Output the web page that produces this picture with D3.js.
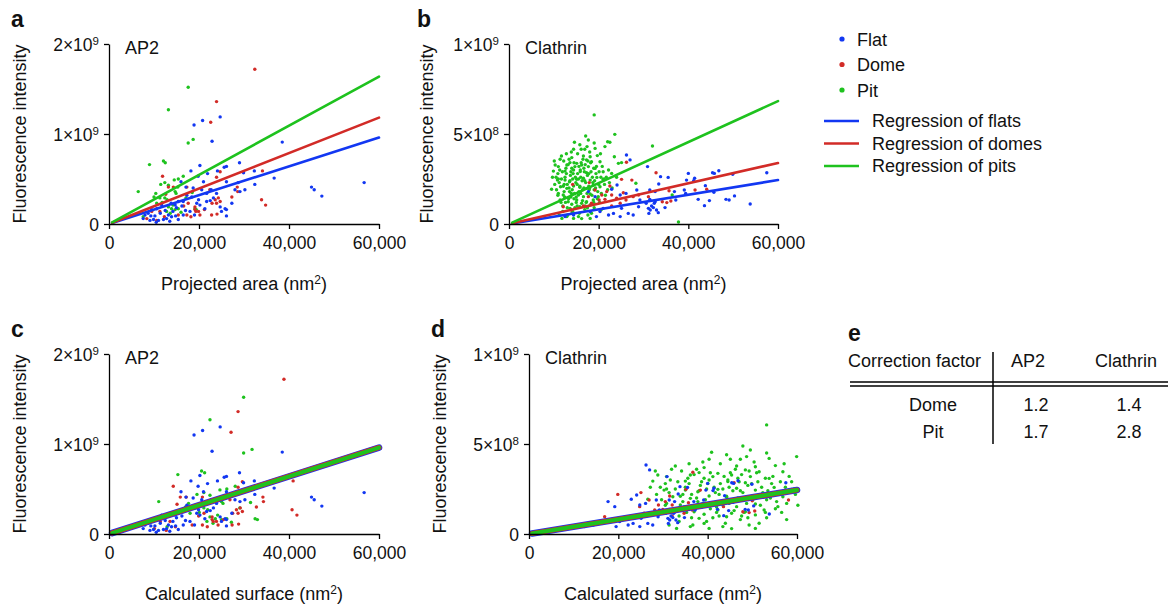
<!DOCTYPE html>
<html>
<head>
<meta charset="utf-8">
<script src="https://cdn.jsdelivr.net/npm/d3@7"></script>
<style>
  body { margin: 0; background: #fff; }
  svg text { font-family: "Liberation Sans", Arial, Helvetica, sans-serif; fill: #111; }
</style>
</head>
<body>
<div id="fig"></div>
<script>
// points are [projected area in thousands of nm², intensity in units of 1e8]
const ap2Flat = [
  [18.9,11.0],[20.8,11.5],[24.7,11.9],[22.9,9.2],[38.5,9.1],[56.7,4.6],[45.0,4.1],[45.6,3.8],[47.3,3.1],
  [36.7,5.1],[32.4,4.4],[29.0,6.8],[26.1,6.4],[25.6,6.3],[20.2,6.5],[18.2,5.9],[21.9,5.6],[24.1,5.9],
  [30.2,3.8],[26.1,1.6],[28.7,4.6],[29.1,3.6],[16.0,4.7],[17.1,4.1],[19.8,5.3],[29.9,5.7],[21.0,4.7],
  [18.7,4.0],[20.6,3.8],[21.7,3.4],[22.7,3.8],[23.9,3.4],[23.2,2.9],[21.7,2.5],[19.9,2.7],[18.4,3.0],
  [17.3,3.2],[16.5,2.5],[15.4,2.5],[14.7,2.1],[13.8,2.3],[11.7,2.1],[10.6,1.7],[9.5,1.6],[8.7,1.2],
  [8.0,1.0],[7.6,0.6],[9.1,0.4],[9.9,0.5],[11.0,0.4],[12.1,0.5],[12.8,0.6],[13.9,0.8],[15.4,0.5],
  [16.5,1.0],[18.0,1.4],[19.0,1.0],[20.2,2.1],[21.3,1.7],[25.8,1.7],[24.7,1.9],[26.1,4.7],[32.3,5.9],
  [28.0,3.8],[27.3,2.3],[26.1,0.9],[25.0,1.4],[10.2,0.9],[11.4,1.2],[12.5,1.5],[13.2,1.0],[14.2,1.4],
  [15.0,1.8],[16.2,2.0],[17.0,1.5],[10.5,0.2],[13.5,0.3],[14.8,0.9],[9.3,0.9],[19.5,2.3],[22.5,2.6]
];
const ap2Dome = [
  [32.4,17.2],[23.9,13.6],[22.6,11.3],[11.9,5.3],[33.9,2.7],[34.8,2.1],[34.1,5.9],[22.8,1.0],[24.0,1.1],
  [28.5,4.1],[14.3,4.1],[13.2,4.1],[17.3,4.1],[16.6,2.0],[17.6,2.3],[19.1,1.9],[19.3,1.4],[19.9,1.4],
  [21.2,1.6],[20.2,1.0],[17.3,1.0],[15.4,1.0],[11.3,1.4],[9.5,1.4],[8.4,0.6],[10.6,0.4],[12.3,0.8],
  [23.6,2.7],[23.9,2.3],[24.3,2.9],[22.9,2.3],[24.7,2.5],[27.3,3.0],[28.6,3.6],[24.7,5.8],[23.9,5.2],
  [22.4,3.8],[19.1,1.6],[18.2,0.8],[12.6,3.3]
];
const ap2Pit = [
  [17.6,15.2],[13.2,12.7],[17.6,9.0],[18.7,9.4],[9.0,6.6],[12.1,7.0],[12.5,6.8],[6.5,3.6],[16.5,5.3],
  [14.5,4.9],[11.5,4.4],[12.4,4.6],[13.2,4.3],[15.3,4.1],[14.7,3.6],[14.9,3.4],[10.4,3.4],[11.3,2.9],
  [12.4,2.9],[12.9,2.7],[10.6,2.3],[13.2,1.9],[13.9,1.7],[14.7,1.6],[12.8,1.4],[13.6,1.2],[15.4,1.7],
  [7.6,0.8],[15.4,5.0],[17.1,2.9],[18.5,3.5],[19.4,1.6],[11.8,2.4],[14.2,2.1],[16.0,1.3],[10.0,3.0],
  [19.1,1.7]
];
const clathrinFlat = [
  [26.2,3.83],[27.0,3.56],[24.1,2.17],[22.9,1.93],[24.8,1.61],[26.1,1.70],[28.5,1.89],[29.2,1.33],
  [20.3,0.69],[22.2,0.50],[23.3,0.59],[24.8,0.41],[26.6,0.59],[27.7,0.50],[19.5,0.41],[18.1,0.69],
  [21.0,0.87],[25.1,0.87],[28.9,0.96],[30.6,1.15],[17.7,1.80],[19.2,1.52],[14.4,0.50],[12.5,0.41],
  [30.9,3.19],[33.8,2.63],[33.4,2.22],[35.5,2.59],[40.0,2.81],[41.4,2.54],[41.2,2.41],[39.6,2.44],
  [45.4,2.85],[45.8,2.81],[46.8,2.96],[49.9,2.76],[57.5,2.85],[43.8,2.13],[39.1,1.89],[39.4,1.70],
  [36.9,1.80],[45.7,1.76],[42.2,1.37],[44.7,1.30],[48.4,1.37],[49.1,1.33],[50.3,1.56],[53.8,1.11],
  [43.6,1.02],[37.2,1.33],[34.8,0.91],[31.4,1.37],[31.8,1.00],[32.4,1.15],[32.6,1.24],[31.1,0.87],
  [31.5,0.78],[32.2,0.91],[32.9,0.78],[33.3,0.63],[31.2,0.59],[32.6,1.80],[31.4,1.89]
];
const clathrinDome = [
  [26.2,3.43],[25.1,2.48],[27.4,2.44],[17.9,2.30],[14.2,2.20],[22.5,2.11],[21.8,1.80],[22.9,1.61],
  [21.4,1.37],[20.7,1.61],[20.1,1.33],[19.2,1.89],[17.7,1.52],[24.0,1.43],[26.1,1.33],[27.7,1.52],
  [22.9,1.00],[24.8,1.15],[12.1,0.96],[13.9,0.78],[16.6,1.00],[18.4,1.15],[28.9,1.61],[25.5,1.74],
  [32.8,2.85],[35.7,1.85],[41.5,1.89],[44.1,1.93],[31.1,1.52],[34.2,1.24],[35.2,1.19],[36.1,1.28]
];
const clathrinPit = [
  [19.0,6.06],[17.1,4.89],[17.7,4.67],[23.6,4.98],[14.6,4.54],[22.0,4.57],[22.5,4.54],[14.4,4.15],
  [16.1,4.15],[16.9,4.15],[19.2,4.20],[21.4,4.30],[23.5,3.74],[11.7,3.78],[14.0,3.69],[16.6,3.78],
  [18.1,3.74],[13.6,3.41],[15.1,3.37],[17.3,3.56],[18.4,3.46],[20.3,3.46],[11.0,3.19],[12.9,3.28],
  [14.7,3.19],[16.2,3.28],[17.7,3.19],[19.2,3.09],[9.9,2.94],[12.5,2.94],[14.4,3.00],[15.9,2.91],
  [17.3,2.85],[22.2,3.00],[24.4,3.37],[25.1,3.41],[10.8,2.44],[12.5,2.44],[13.5,2.35],[15.1,2.48],
  [16.6,2.54],[18.1,2.44],[19.6,2.59],[21.0,2.48],[22.9,2.81],[11.5,2.07],[12.9,1.98],[14.4,2.11],
  [15.8,2.04],[17.3,1.98],[18.8,2.17],[20.3,2.07],[9.5,1.93],[11.0,1.70],[12.1,1.61],[13.9,1.70],
  [15.5,1.61],[16.6,1.52],[18.1,1.67],[19.9,1.52],[11.4,1.33],[13.2,1.24],[15.1,1.33],[16.2,1.15],
  [17.3,1.24],[18.8,1.33],[13.6,0.87],[15.8,0.96],[18.1,1.06],[11.8,0.31],[12.9,0.41],[14.4,0.31],
  [15.5,0.41],[18.1,0.31],[14.0,0.59],[10.3,3.28],[32.0,4.33],[36.4,1.61],[37.8,0.11],[28.3,2.26],
  [10.5,2.60],[11.2,2.30],[11.9,2.90],[12.3,1.80],[12.7,3.10],[13.0,2.20],[13.3,1.40],[13.7,2.70],
  [14.1,1.90],[14.5,3.40],[14.8,2.60],[15.2,2.20],[15.6,1.80],[15.9,3.00],[16.3,2.40],[16.7,2.00],
  [17.0,3.30],[17.5,2.70],[17.9,1.90],[18.3,2.90],[18.7,2.30],[19.4,2.80],[19.8,1.80],[20.5,2.60],
  [21.3,2.20],[11.6,1.20],[12.0,0.70],[13.1,0.50],[14.7,0.90],[15.7,0.60],[16.9,0.80],[17.6,0.50],
  [19.0,0.90],[10.9,1.60],[13.4,3.60],[15.3,3.90],[16.5,3.60],[18.0,4.00],[19.7,3.80],[12.2,3.50],
  [20.8,3.20],[21.7,2.60],[14.0,1.10],[15.0,1.50],[16.0,1.70],[17.2,1.20],[18.5,1.60],[13.6,2.40],
  [14.3,2.80],[15.5,2.50],[16.8,2.90],[17.8,2.10],[12.5,2.60],[11.4,3.60],[19.3,2.00],[20.2,1.20],
  [22.0,1.90],[21.0,2.90],
  [10.2,2.2],[10.6,1.9],[10.9,2.8],[11.3,3.0],[11.7,2.5],[12.1,2.1],[12.4,1.5],[12.8,2.8],[13.2,3.3],
  [13.5,1.8],[13.8,2.9],[14.2,2.5],[14.6,1.7],[14.9,2.3],[15.3,2.8],[15.6,3.2],[16.0,2.6],[16.4,1.9],
  [16.7,3.1],[17.1,2.3],[17.4,1.7],[17.8,2.8],[18.2,3.4],[18.6,2.6],[19.1,2.4],[19.5,3.2],[20.0,2.2],
  [20.6,1.7],[21.2,2.5],[22.4,2.3],[12.0,1.0],[13.0,0.9],[14.2,0.7],[15.2,1.0],[16.4,1.3],[17.5,0.9],
  [18.9,1.2],[20.6,0.8],[11.2,0.5],[16.2,0.3],[13.9,4.0],[15.8,4.4],[17.4,4.3],[12.8,3.9],[19.0,4.5],
  [20.4,3.9],[10.1,3.5],[9.7,2.6],[23.0,2.0],[24.0,2.6],[12.3,2.2],[13.4,2.0],[14.5,1.4],[15.8,2.1],
  [16.9,2.4],[18.0,2.0],[19.0,1.9],[20.1,2.9],[11.0,2.5],[14.0,3.1],[16.1,3.4],[17.6,3.5],[18.9,3.1],
  [15.0,1.2],[17.0,1.0],[12.6,1.2],[13.8,1.5],[18.4,0.6],[19.7,1.4],[21.5,1.6]
];

// fitted slopes (intensity per nm²) for flat, dome, pit
const ap2Slopes = [16000, 19700, 27300];
const clathrinSlopes = [4070, 5650, 11380];

// table e
const correctionRows = ["Dome", "Pit"];
const correctionAP2 = [1.2, 1.7];
const correctionClathrin = [1.4, 2.8];

const xTicks = [0, 20000, 40000, 60000];
const ap2YTicks = [0, 1e9, 2e9];
const ap2YLabels = [["0", ""], ["1×10", "9"], ["2×10", "9"]];
const clathrinYTicks = [0, 5e8, 1e9];
const clathrinYLabels = [["0", ""], ["5×10", "8"], ["1×10", "9"]];

const seriesNames = ["Flat", "Dome", "Pit"];
const regressionNames = ["Regression of flats", "Regression of domes", "Regression of pits"];
const colors = ["#1237f2", "#d22b27", "#1ec21e"];

const svg = d3.select("#fig").append("svg")
  .attr("width", 1168)
  .attr("height", 608);

function toUnits(pts, factor) {
  return pts.map(p => [p[0] * 1000 * factor, p[1] * 1e8]);
}

function drawPanel(cfg) {
  const x = d3.scaleLinear().domain([0, 60000]).range([cfg.left, cfg.right]);
  const y = d3.scaleLinear().domain([0, cfg.yMax]).range([cfg.bottom, cfg.top]);
  const g = svg.append("g");

  // points: pits first, flats on top
  [2, 1, 0].forEach(i => {
    const pts = cfg.series[i].filter(p => p[0] <= 60500);
    g.append("g").selectAll("circle")
      .data(pts)
      .enter()
      .append("circle")
      .attr("cx", d => x(d[0]))
      .attr("cy", d => y(d[1]))
      .attr("r", 1.7)
      .attr("fill", colors[i]);
  });

  // regression lines
  [0, 1, 2].forEach(i => {
    const s = cfg.slopes[i];
    g.append("line")
      .attr("x1", x(700)).attr("y1", y(700 * s))
      .attr("x2", x(60000)).attr("y2", y(60000 * s))
      .attr("stroke", colors[i])
      .attr("stroke-width", cfg.lineWidths[i])
      .attr("stroke-linecap", "round");
  });

  const xAxis = g.append("g")
    .attr("transform", `translate(0,${cfg.bottom})`)
    .call(d3.axisBottom(x).tickValues(xTicks).tickFormat(d3.format(",")).tickSize(5).tickSizeOuter(0).tickPadding(8));
  const yAxis = g.append("g")
    .attr("transform", `translate(${cfg.left},0)`)
    .call(d3.axisLeft(y).tickValues(cfg.yTicks).tickSize(5).tickSizeOuter(0).tickPadding(5));

  [xAxis, yAxis].forEach(a => {
    a.attr("font-size", 17.5);
    a.selectAll("path, line").attr("stroke", "#000").attr("stroke-width", 1.3);
  });

  yAxis.selectAll(".tick text").each(function (d, i) {
    const t = d3.select(this).text(null).attr("dy", "0.38em");
    t.append("tspan").text(cfg.yLabels[i][0]);
    if (cfg.yLabels[i][1]) {
      t.append("tspan").attr("dy", -6).attr("font-size", 11.5).text(cfg.yLabels[i][1]);
    }
  });

  // axis titles
  g.append("text")
    .attr("transform", `translate(${cfg.yTitleX},${(cfg.top + cfg.bottom) / 2}) rotate(-90)`)
    .attr("text-anchor", "middle")
    .attr("font-size", 18)
    .text("Fluorescence intensity");

  const xt = g.append("text")
    .attr("x", (cfg.left + cfg.right) / 2)
    .attr("y", cfg.bottom + 66)
    .attr("text-anchor", "middle")
    .attr("font-size", 18);
  xt.append("tspan").text(cfg.xTitle + " (nm");
  xt.append("tspan").attr("dy", -6).attr("font-size", 12).text("2");
  xt.append("tspan").attr("dy", 6).text(")");

  g.append("text")
    .attr("x", cfg.left + 16)
    .attr("y", cfg.top + 10)
    .attr("font-size", 18)
    .text(cfg.title);

  g.append("text")
    .attr("x", cfg.letterX)
    .attr("y", cfg.top - 17)
    .attr("font-size", 23)
    .attr("font-weight", "bold")
    .text(cfg.letter);
}

const thin = [2.6, 2.6, 2.6];
const thick = [6.6, 5.2, 3.9];

drawPanel({
  letter: "a", letterX: 11, title: "AP2", xTitle: "Projected area",
  left: 109, right: 379, top: 44, bottom: 224, yTitleX: 26,
  yMax: 2e9, yTicks: ap2YTicks, yLabels: ap2YLabels,
  series: [toUnits(ap2Flat, 1), toUnits(ap2Dome, 1), toUnits(ap2Pit, 1)],
  slopes: ap2Slopes, lineWidths: thin
});
drawPanel({
  letter: "b", letterX: 417, title: "Clathrin", xTitle: "Projected area",
  left: 509, right: 778, top: 44, bottom: 224, yTitleX: 433,
  yMax: 1e9, yTicks: clathrinYTicks, yLabels: clathrinYLabels,
  series: [toUnits(clathrinFlat, 1), toUnits(clathrinDome, 1), toUnits(clathrinPit, 1)],
  slopes: clathrinSlopes, lineWidths: thin
});
// after correction all three regressions coincide with the flat one
drawPanel({
  letter: "c", letterX: 11, title: "AP2", xTitle: "Calculated surface",
  left: 109, right: 379, top: 354, bottom: 534, yTitleX: 26,
  yMax: 2e9, yTicks: ap2YTicks, yLabels: ap2YLabels,
  series: [toUnits(ap2Flat, 1), toUnits(ap2Dome, correctionAP2[0]), toUnits(ap2Pit, correctionAP2[1])],
  slopes: [ap2Slopes[0], ap2Slopes[0], ap2Slopes[0]],
  lineWidths: thick
});
drawPanel({
  letter: "d", letterX: 431, title: "Clathrin", xTitle: "Calculated surface",
  left: 529, right: 797, top: 354, bottom: 534, yTitleX: 446,
  yMax: 1e9, yTicks: clathrinYTicks, yLabels: clathrinYLabels,
  series: [toUnits(clathrinFlat, 1), toUnits(clathrinDome, correctionClathrin[0]), toUnits(clathrinPit, correctionClathrin[1])],
  slopes: [clathrinSlopes[0], clathrinSlopes[0], clathrinSlopes[0]],
  lineWidths: thick
});

// legend
const legend = svg.append("g");
seriesNames.forEach((name, i) => {
  legend.append("circle").attr("cx", 842).attr("cy", 39 + i * 25.5).attr("r", 2.6).attr("fill", colors[i]);
  legend.append("text").attr("x", 857).attr("y", 45.5 + i * 25.5).attr("font-size", 18).text(name);
});
regressionNames.forEach((name, i) => {
  const ly = 121 + i * 22.5;
  legend.append("line").attr("x1", 824).attr("x2", 859).attr("y1", ly).attr("y2", ly)
    .attr("stroke", colors[i]).attr("stroke-width", 2.6);
  legend.append("text").attr("x", 872).attr("y", ly + 6).attr("font-size", 18).text(name);
});

// table e
const tbl = svg.append("g").attr("font-size", 18);
tbl.append("text").attr("x", 848).attr("y", 341).attr("font-size", 23).attr("font-weight", "bold").text("e");
tbl.append("text").attr("x", 848).attr("y", 367).text("Correction factor");
tbl.append("text").attr("x", 1028).attr("y", 367).attr("text-anchor", "middle").text("AP2");
tbl.append("text").attr("x", 1126).attr("y", 367).attr("text-anchor", "middle").text("Clathrin");
tbl.append("line").attr("x1", 993).attr("x2", 993).attr("y1", 352).attr("y2", 444)
  .attr("stroke", "#000").attr("stroke-width", 1.5);
[382, 386].forEach(ly => {
  tbl.append("line").attr("x1", 850).attr("x2", 1168).attr("y1", ly).attr("y2", ly)
    .attr("stroke", "#000").attr("stroke-width", 1.6);
});
correctionRows.forEach((row, i) => {
  const ty = 411 + i * 27;
  tbl.append("text").attr("x", 933).attr("y", ty).attr("text-anchor", "middle").text(row);
  tbl.append("text").attr("x", 1036).attr("y", ty).attr("text-anchor", "middle").text(correctionAP2[i].toFixed(1));
  tbl.append("text").attr("x", 1129).attr("y", ty).attr("text-anchor", "middle").text(correctionClathrin[i].toFixed(1));
});
</script>
</body>
</html>
